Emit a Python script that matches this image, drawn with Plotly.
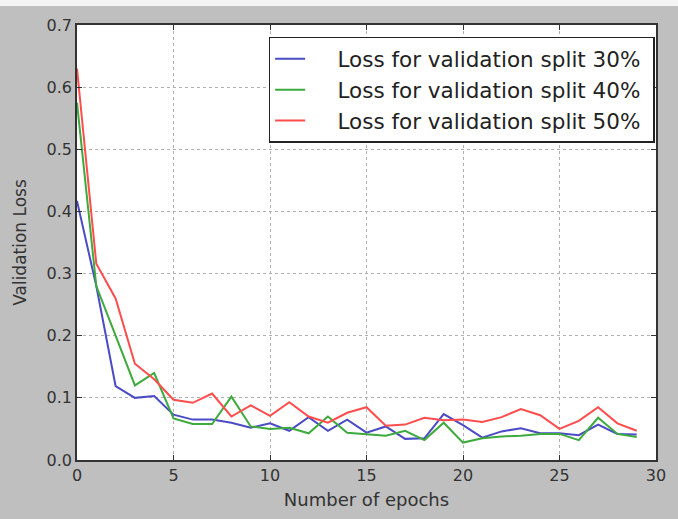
import plotly.graph_objects as go

epochs = list(range(30))
loss_30 = [0.417, 0.28, 0.119, 0.100, 0.103, 0.073, 0.065, 0.065, 0.060, 0.052,
           0.059, 0.047, 0.069, 0.047, 0.065, 0.044, 0.054, 0.034, 0.035, 0.074,
           0.056, 0.036, 0.046, 0.051, 0.043, 0.043, 0.040, 0.057, 0.042, 0.041]
loss_40 = [0.575, 0.28, 0.200, 0.120, 0.140, 0.067, 0.058, 0.058, 0.102, 0.054,
           0.050, 0.052, 0.043, 0.070, 0.044, 0.042, 0.039, 0.047, 0.032, 0.060,
           0.028, 0.035, 0.038, 0.039, 0.042, 0.042, 0.032, 0.068, 0.042, 0.037]
loss_50 = [0.630, 0.316, 0.260, 0.155, 0.130, 0.097, 0.092, 0.107, 0.070, 0.088,
           0.071, 0.093, 0.070, 0.060, 0.076, 0.085, 0.055, 0.057, 0.068, 0.064,
           0.065, 0.061, 0.069, 0.082, 0.072, 0.050, 0.063, 0.085, 0.059, 0.047]
names = ["Loss for validation split 30%", "Loss for validation split 40%",
         "Loss for validation split 50%"]
colors = ["#4b4bc6", "#3caa3c", "#ff4d4d"]

fig = go.Figure()
for ys, nm, c in zip([loss_30, loss_40, loss_50], names, colors):
    fig.add_trace(go.Scatter(x=epochs, y=ys, mode="lines",
                             name="\u00a0\u00a0\u00a0\u00a0" + nm + "\u00a0",
                             line=dict(color=c, width=2)))

axis_common = dict(showline=True, linecolor="#333333", linewidth=1.5, mirror="allticks",
                   ticks="inside", ticklen=5, tickcolor="#333333",
                   showgrid=True, gridcolor="#b0b0b0", griddash="dot", gridwidth=1,
                   zeroline=False, tickfont=dict(family="DejaVu Sans", size=16, color="#333333"))

fig.update_xaxes(range=[0, 30], dtick=5, tick0=0, ticklabelstandoff=0,
                 title=dict(text="Number of epochs", font=dict(family="DejaVu Sans", size=18, color="#333333"), standoff=9),
                 **axis_common)
fig.update_yaxes(range=[0, 0.7], dtick=0.1, tick0=0, tickformat=".1f", ticklabelstandoff=0,
                 title=dict(text="Validation Loss", font=dict(family="DejaVu Sans", size=17, color="#333333"), standoff=16),
                 **axis_common)

fig.update_layout(
    width=678, height=519,
    margin=dict(l=77, r=15, t=25, b=59),
    paper_bgcolor="#bfbfbf", plot_bgcolor="white",
    font=dict(family="DejaVu Sans", color="#222222"),
    legend=dict(x=0.331, y=0.973, xanchor="left", yanchor="top",
                bgcolor="white", bordercolor="#222222", borderwidth=1.5,
                font=dict(family="DejaVu Sans", size=21.5, color="#222222"),
                tracegroupgap=0, itemwidth=30),
    shapes=[dict(type="rect", xref="paper", yref="paper", x0=-0.2, x1=1.1,
                 y0=1 + 19 / 435, y1=1 + 26 / 435, fillcolor="#f4f4f4",
                 line=dict(width=0), layer="above")],
)

fig.write_html("out.html")
